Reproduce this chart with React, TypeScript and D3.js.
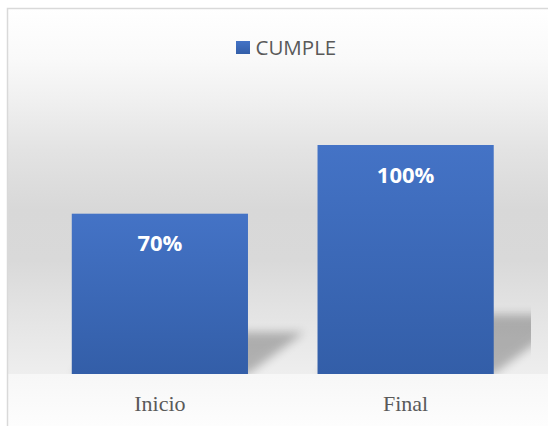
import React from "react";
import * as d3 from "d3";

const categories = ["Inicio", "Final"];
const values = [0.7, 1.0];
const valueLabels = ["70%", "100%"];
const seriesName = "CUMPLE";

const W = 548;
const H = 426;

export default function App() {
  const x = d3
    .scaleBand<string>()
    .domain(categories)
    .range([37, 528.5])
    .paddingInner(0.283)
    .paddingOuter(0.1415);
  const y = d3.scaleLinear().domain([0, 1.2]).range([374, 99.2]);
  const y0 = y(0);

  const bgStops: [number, string][] = [
    [8, "#ffffff"],
    [60, "#f9f9f9"],
    [100, "#f0f0f0"],
    [150, "#e3e3e3"],
    [210, "#d8d8d8"],
    [260, "#d9d9d9"],
    [310, "#e3e3e3"],
    [374, "#eeeeee"],
    [374.5, "#f7f7f7"],
    [426, "#fdfdfd"],
  ];

  return (
    <svg
      width={W}
      height={H}
      style={{ position: "absolute", left: 0, top: 0 }}
    >
      <defs>
        <linearGradient id="bg" gradientUnits="userSpaceOnUse" x1={0} y1={8} x2={0} y2={426}>
          {bgStops.map(([yy, c], i) => (
            <stop key={i} offset={(yy - 8) / (426 - 8)} stopColor={c} />
          ))}
        </linearGradient>
        <linearGradient id="bar" x1="0" y1="0" x2="0" y2="1">
          <stop offset="0" stopColor="#4473c6" />
          <stop offset="1" stopColor="#335ea8" />
        </linearGradient>
        <filter id="blur" x="-50%" y="-50%" width="200%" height="200%">
          <feGaussianBlur stdDeviation="5" />
        </filter>
        <clipPath id="plotclip">
          <rect x={30} y={60} width={501} height={y0 - 60} />
        </clipPath>
      </defs>
      <rect x={7.5} y={8.5} width={W + 20} height={H + 20} fill="url(#bg)" stroke="#d9d9d9" strokeWidth={1.5} />

      {/* legend */}
      <rect x={236} y={41} width={14} height={13} fill="url(#bar)" />
      <text x={255.5} y={55} fontFamily="'Open Sans', sans-serif" fontSize={20.5} fill="#595959">
        {seriesName}
      </text>

      {/* shadows */}
      <g clipPath="url(#plotclip)">
        {categories.map((c, i) => {
          const left = x(c)!;
          const right = left + x.bandwidth();
          const h = y0 - y(values[i]);
          const sh = h * 0.26;
          const skew = sh * 1.35;
          const pts = [
            [left, y0],
            [right, y0],
            [right + skew, y0 - sh],
            [left + skew, y0 - sh],
          ];
          return (
            <polygon
              key={c}
              points={pts.map((p) => p.join(",")).join(" ")}
              fill="#000"
              opacity={0.25}
              filter="url(#blur)"
            />
          );
        })}
      </g>

      {/* bars */}
      {categories.map((c, i) => (
        <rect
          key={c}
          x={x(c)}
          y={y(values[i])}
          width={x.bandwidth()}
          height={y0 - y(values[i])}
          fill="url(#bar)"
        />
      ))}

      {/* value labels */}
      {categories.map((c, i) => (
        <text
          key={c}
          x={x(c)! + x.bandwidth() / 2}
          y={y(values[i]) + 37.5}
          textAnchor="middle"
          fontFamily="'Open Sans', sans-serif"
          fontWeight="bold"
          fontSize={22}
          fill="#ffffff"
        >
          {valueLabels[i]}
        </text>
      ))}

      {/* category labels */}
      {categories.map((c) => (
        <text
          key={c}
          x={x(c)! + x.bandwidth() / 2}
          y={411}
          textAnchor="middle"
          fontFamily="'Liberation Serif', serif"
          fontSize={22}
          fill="#595959"
        >
          {c}
        </text>
      ))}
    </svg>
  );
}
